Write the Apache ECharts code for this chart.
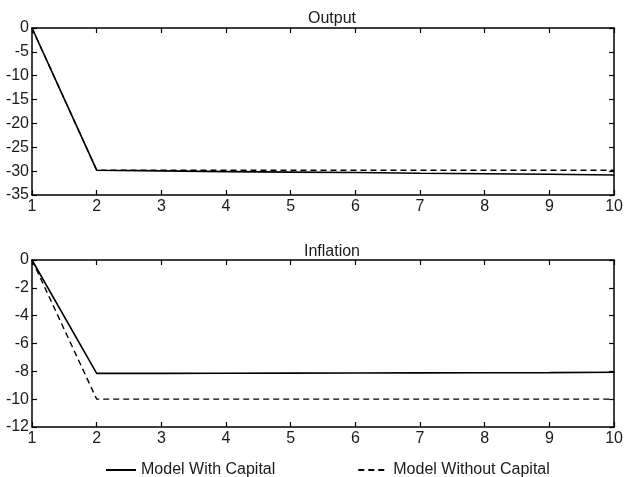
<!DOCTYPE html>
<html><head><meta charset="utf-8">
<script src="https://cdn.jsdelivr.net/npm/echarts@6/dist/echarts.min.js"></script>
<style>html,body{margin:0;padding:0;background:#fff}#c{width:626px;height:477px}</style>
</head><body><div id="c"></div>
<script>
const periods = [1,2,3,4,5,6,7,8,9,10];
const outputWithCapital = [0,-29.8,-29.95,-30.1,-30.2,-30.3,-30.45,-30.55,-30.65,-30.8];
const outputWithoutCapital = [0,-29.8,-29.8,-29.8,-29.8,-29.8,-29.8,-29.8,-29.8,-29.8];
const inflationWithCapital = [0,-8.15,-8.15,-8.14,-8.13,-8.12,-8.11,-8.1,-8.09,-8.07];
const inflationWithoutCapital = [0,-10,-10,-10,-10,-10,-10,-10,-10,-10];
const panelTitles = ['Output','Inflation'];
const seriesNames = ['Model With Capital','Model Without Capital'];

const font = 'Liberation Sans, Arial, sans-serif';
const txt = '#1a1a1a';
const pair = (xs, ys) => xs.map((x,i)=>[x, ys[i]]);
const grids = [
  {left:32, right:11, top:28, height:167},
  {left:32, right:11, top:260, height:167}
];
function xAx(gi, pos, labels){
  return {type:'value', gridIndex:gi, position:pos, min:1, max:10, interval:1,
    axisLine:{show:true, onZero:false, lineStyle:{color:'#000', width:1.5}},
    axisTick:{show:true, inside:true, length:5, lineStyle:{color:'#000', width:1.2}},
    axisLabel:{show:labels, color:txt, fontSize:16, fontFamily:font, margin:4},
    splitLine:{show:false}};
}
function yAx(gi, pos, min, max, interval, labels){
  return {type:'value', gridIndex:gi, position:pos, min:min, max:max, interval:interval,
    axisLine:{show:true, onZero:false, lineStyle:{color:'#000', width:1.5}},
    axisTick:{show:true, inside:true, length:5, lineStyle:{color:'#000', width:1.2}},
    axisLabel:{show:labels, color:txt, fontSize:16, fontFamily:font, margin:3},
    splitLine:{show:false}};
}
const chart = echarts.init(document.getElementById('c'), null, {renderer:'canvas'});
chart.setOption({
  animation:false,
  backgroundColor:'#fff',
  title:[
    {text:panelTitles[0], left:327, top:6, textAlign:'center', textStyle:{fontSize:16, fontWeight:'normal', color:txt, fontFamily:font}},
    {text:panelTitles[1], left:327, top:239, textAlign:'center', textStyle:{fontSize:16, fontWeight:'normal', color:txt, fontFamily:font}}
  ],
  grid:grids,
  xAxis:[xAx(0,'bottom',true), xAx(0,'top',false), xAx(1,'bottom',true), xAx(1,'top',false)],
  yAxis:[yAx(0,'left',-35,0,5,true), yAx(0,'right',-35,0,5,false), yAx(1,'left',-12,0,2,true), yAx(1,'right',-12,0,2,false)],
  legend:{left:100, top:457, itemGap:82, itemWidth:30, itemHeight:14,
    itemStyle:{opacity:0},
    textStyle:{fontSize:16, color:txt, fontFamily:font},
    data:seriesNames},
  series:[
    {name:seriesNames[0], type:'line', xAxisIndex:0, yAxisIndex:0, data:pair(periods,outputWithCapital), symbol:'none', lineStyle:{color:'#000', width:1.6}, itemStyle:{color:'#000'}},
    {name:seriesNames[1], type:'line', xAxisIndex:0, yAxisIndex:0, data:pair(periods,outputWithoutCapital), symbol:'none', lineStyle:{color:'#000', width:1.4, type:[6,4]}, itemStyle:{color:'#000'}},
    {name:seriesNames[0], type:'line', xAxisIndex:2, yAxisIndex:2, data:pair(periods,inflationWithCapital), symbol:'none', lineStyle:{color:'#000', width:1.6}, itemStyle:{color:'#000'}},
    {name:seriesNames[1], type:'line', xAxisIndex:2, yAxisIndex:2, data:pair(periods,inflationWithoutCapital), symbol:'none', lineStyle:{color:'#000', width:1.4, type:[6,4]}, itemStyle:{color:'#000'}}
  ]
});
</script></body></html>
